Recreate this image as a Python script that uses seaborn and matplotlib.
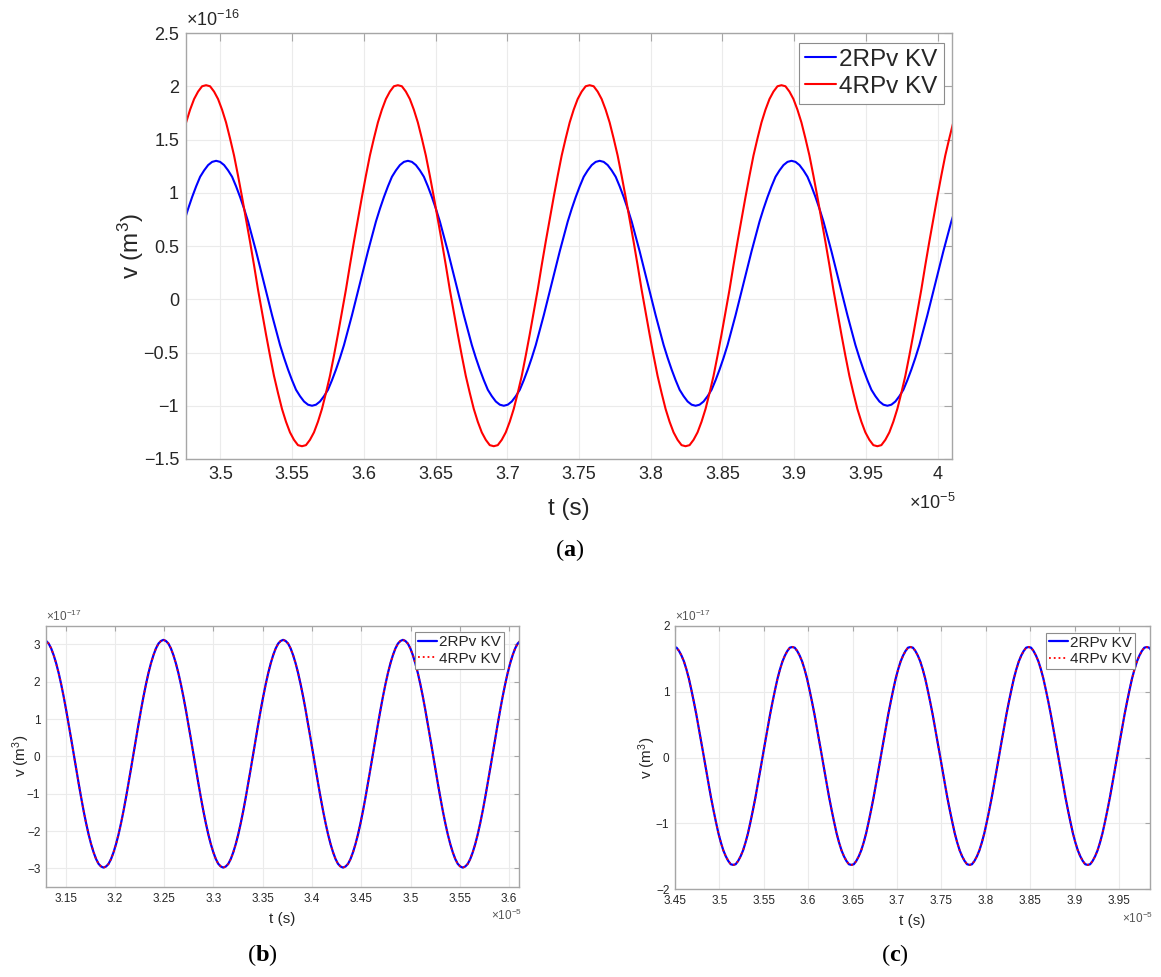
import numpy as np
import pandas as pd
import matplotlib
matplotlib.use('Agg')
import matplotlib.pyplot as plt
from matplotlib import ticker
import seaborn as sns

# values: t in units of 1e-5 s, v in units of the
# axis multiplier (1e-16 m^3 for (a), 1e-17 m^3 for (b) and (c)).
# each list is one period of the trace sampled every 1/48 period, starting at a crest
cycle_a_2rpv = [1.30, 1.29, 1.26, 1.21, 1.15, 1.06, 0.96, 0.85, 0.73, 0.59, 0.45, 0.30,
                0.15, 0.00, -0.15, -0.29, -0.43, -0.55, -0.66, -0.76, -0.85, -0.91, -0.96, -0.99,
                -1.00, -0.99, -0.96, -0.91, -0.85, -0.76, -0.66, -0.55, -0.43, -0.29, -0.15, 0.00,
                0.15, 0.30, 0.45, 0.59, 0.73, 0.85, 0.96, 1.06, 1.15, 1.21, 1.26, 1.29]
cycle_a_4rpv = [2.01, 2.00, 1.95, 1.88, 1.78, 1.66, 1.51, 1.35, 1.16, 0.96, 0.75, 0.54,
                0.32, 0.09, -0.12, -0.33, -0.53, -0.72, -0.88, -1.03, -1.15, -1.25, -1.32, -1.37,
                -1.38, -1.37, -1.32, -1.25, -1.15, -1.03, -0.88, -0.72, -0.53, -0.33, -0.12, 0.09,
                0.32, 0.54, 0.75, 0.96, 1.16, 1.35, 1.51, 1.66, 1.78, 1.88, 1.95, 2.00]
cycle_b = [3.12, 3.09, 3.02, 2.89, 2.71, 2.49, 2.23, 1.93, 1.60, 1.24, 0.86, 0.47,
           0.07, -0.33, -0.72, -1.10, -1.46, -1.79, -2.09, -2.35, -2.57, -2.75, -2.88, -2.95,
           -2.98, -2.95, -2.88, -2.75, -2.57, -2.35, -2.09, -1.79, -1.46, -1.10, -0.72, -0.33,
           0.07, 0.47, 0.86, 1.24, 1.60, 1.93, 2.23, 2.49, 2.71, 2.89, 3.02, 3.09]
cycle_c = [1.68, 1.67, 1.62, 1.55, 1.46, 1.34, 1.20, 1.03, 0.85, 0.66, 0.45, 0.24,
           0.03, -0.19, -0.40, -0.61, -0.80, -0.98, -1.15, -1.29, -1.41, -1.50, -1.57, -1.62,
           -1.63, -1.62, -1.57, -1.50, -1.41, -1.29, -1.15, -0.98, -0.80, -0.61, -0.40, -0.19,
           0.03, 0.24, 0.45, 0.66, 0.85, 1.03, 1.20, 1.34, 1.46, 1.55, 1.62, 1.67]

# first crest time and period of each trace (1e-5 s)
crest_a_2rpv = 3.3633
crest_a_4rpv = 3.3563
period_a = 0.1337
crest_b = 3.0062
period_b = 0.1215
crest_c = 3.3159
period_c = 0.1331
n_periods = 6

labels = ['2RPv KV', '4RPv KV']


def trace(cycle, crest, period):
    n = len(cycle)
    t = crest + period * np.arange(n * n_periods + 1) / n
    v = np.append(np.tile(cycle, n_periods), cycle[0])
    return pd.DataFrame({'t': t, 'v': v})


def fmt(x, pos):
    x = round(x, 6)
    if x == 0:
        return '0'
    return f'{x:g}'.replace('-', '\u2212')


def matlab_axes(ax, fs, ticklen, pad):
    ax.grid(True, color='#ebebeb', linewidth=0.8)
    ax.set_axisbelow(True)
    for s in ax.spines.values():
        s.set_visible(True)
        s.set_color('#a6a6a6')
        s.set_linewidth(1.0)
    ax.tick_params(direction='in', top=True, right=True, length=ticklen, width=0.8,
                   color='#a6a6a6', labelcolor='#262626', labelsize=fs, pad=pad)
    ax.xaxis.set_major_formatter(ticker.FuncFormatter(fmt))
    ax.yaxis.set_major_formatter(ticker.FuncFormatter(fmt))


sns.set_theme(style='white')
plt.rcParams['font.family'] = ['Liberation Sans', 'DejaVu Sans']
plt.rcParams['mathtext.fontset'] = 'custom'
plt.rcParams['mathtext.rm'] = 'Liberation Sans'
plt.rcParams['mathtext.it'] = 'Liberation Sans:italic'
plt.rcParams['mathtext.bf'] = 'Liberation Serif:bold'

fig = plt.figure(figsize=(11.61, 9.77), dpi=100)
ax_a = fig.add_axes([0.1602, 0.5302, 0.6598, 0.4360])
ax_b = fig.add_axes([0.0396, 0.0921, 0.4074, 0.2675])
ax_c = fig.add_axes([0.5814, 0.0898, 0.4091, 0.2695])

# (a)
sns.lineplot(data=trace(cycle_a_2rpv, crest_a_2rpv, period_a), x='t', y='v', ax=ax_a,
             color='#0000ff', linewidth=1.5, label=labels[0], sort=False, estimator=None)
sns.lineplot(data=trace(cycle_a_4rpv, crest_a_4rpv, period_a), x='t', y='v', ax=ax_a,
             color='#ff0000', linewidth=1.5, label=labels[1], sort=False, estimator=None)
ax_a.set_xlim(3.476, 4.010)
ax_a.set_ylim(-1.5, 2.5)
ax_a.xaxis.set_major_locator(ticker.MultipleLocator(0.05))
ax_a.yaxis.set_major_locator(ticker.MultipleLocator(0.5))
matlab_axes(ax_a, 13, 6, 5)
ax_a.set_xlabel('t (s)', fontsize=17.5, color='#262626', labelpad=11)
ax_a.set_ylabel(r'v (m$^3$)', fontsize=17.5, color='#262626', labelpad=-2)
ax_a.text(0.0, 1.006, r'$\times10^{-16}$', transform=ax_a.transAxes, ha='left', va='bottom',
          fontsize=13, color='#262626')
ax_a.text(1.004, -0.08, r'$\times10^{-5}$', transform=ax_a.transAxes, ha='right', va='top',
          fontsize=13, color='#262626')
leg = ax_a.legend(loc='upper right', bbox_to_anchor=(0.989, 0.977), borderaxespad=0,
                  fontsize=17.5, frameon=True, fancybox=False, edgecolor='#8c8c8c',
                  framealpha=1, handlelength=1.25, handletextpad=0.15, labelspacing=0.2,
                  borderpad=0.25)
leg.get_frame().set_linewidth(0.8)

# (b) and (c): both models give the same trace
for ax, cyc, crest, period, ylab_x in [(ax_b, cycle_b, crest_b, period_b, -0.03),
                                       (ax_c, cycle_c, crest_c, period_c, -0.036)]:
    df = trace(cyc, crest, period)
    sns.lineplot(data=df, x='t', y='v', ax=ax, color='#0000ff', linewidth=1.6,
                 label=labels[0], sort=False, estimator=None)
    sns.lineplot(data=df, x='t', y='v', ax=ax, color='#ff0000', linewidth=1.3,
                 linestyle=':', label=labels[1], sort=False, estimator=None)
    ax.xaxis.set_major_locator(ticker.MultipleLocator(0.05))
    ax.yaxis.set_major_locator(ticker.MultipleLocator(1))
    matlab_axes(ax, 8.5, 3.5, 4)
    ax.set_xlabel('t (s)', fontsize=11, color='#262626', labelpad=5)
    ax.set_ylabel(r'v (m$^3$)', fontsize=11, color='#262626')
    ax.yaxis.set_label_coords(ylab_x, 0.5)
    ax.text(0.0, 1.008, r'$\times10^{-17}$', transform=ax.transAxes, ha='left', va='bottom',
            fontsize=8.5, color='#555555')
    ax.text(1.006, -0.08, r'$\times10^{-5}$', transform=ax.transAxes, ha='right', va='top',
            fontsize=8.5, color='#555555')
    lg = ax.legend(loc='upper right', bbox_to_anchor=(0.968, 0.975), borderaxespad=0,
                   fontsize=11, frameon=True, fancybox=False, edgecolor='#8c8c8c',
                   framealpha=1, handlelength=1.3, handletextpad=0.1, labelspacing=0.15,
                   borderpad=0.2)
    lg.get_frame().set_linewidth(0.8)

ax_b.set_xlim(3.13, 3.61)
ax_b.set_ylim(-3.5, 3.5)
ax_c.set_xlim(3.45, 3.985)
ax_c.set_ylim(-2, 2)

for x, y, letter in [(0.491, 0.437, 'a'), (0.2257, 0.0225, 'b'), (0.7709, 0.0225, 'c')]:
    fig.text(x, y, '($\\mathbf{' + letter + '}$)', family='Liberation Serif', fontsize=17.5,
             ha='center', va='center', color='black')

fig.savefig('out.png', dpi=100)
